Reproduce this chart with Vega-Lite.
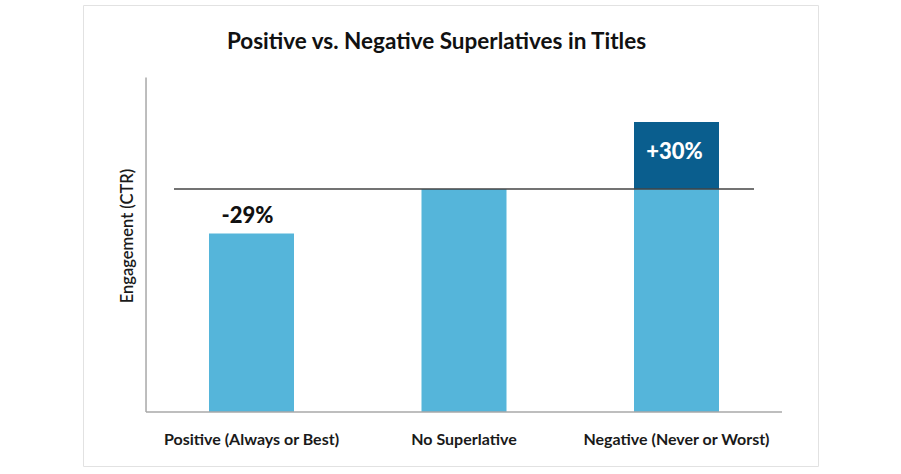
{
  "$schema": "https://vega.github.io/schema/vega-lite/v6.json",
  "width": 735,
  "height": 461,
  "autosize": "none",
  "padding": {"left": 83, "top": 5, "right": 83, "bottom": 8},
  "background": "white",
  "title": {
    "text": "Positive vs. Negative Superlatives in Titles",
    "font": "Lato",
    "fontSize": 22.5,
    "fontWeight": "bold",
    "color": "#111111",
    "anchor": "middle",
    "baseline": "alphabetic",
    "offset": -66,
    "dx": -14
  },
  "config": {
    "view": {"stroke": "#e2e2e2", "strokeWidth": 1},
    "axis": {"grid": false}
  },
  "datasets": {
    "bars": [
      {"category": "Positive (Always or Best)", "segment": "base", "start": 0, "end": 80},
      {"category": "No Superlative", "segment": "base", "start": 0, "end": 100},
      {"category": "Negative (Never or Worst)", "segment": "base", "start": 0, "end": 100},
      {"category": "Negative (Never or Worst)", "segment": "lift", "start": 100, "end": 130}
    ],
    "labels": [
      {"category": "Positive (Always or Best)", "pos": 80, "label": "-29%", "kind": "above"},
      {"category": "Negative (Never or Worst)", "pos": 115, "label": "+30%", "kind": "inside"}
    ],
    "rules": [
      {"kind": "yaxis", "from": "Positive (Always or Best)", "to": "Positive (Always or Best)", "y": 0, "y2": 150},
      {"kind": "xaxis", "from": "Positive (Always or Best)", "to": "Negative (Never or Worst)", "y": 0, "y2": 0},
      {"kind": "ref", "from": "Positive (Always or Best)", "to": "Negative (Never or Worst)", "y": 100, "y2": 100}
    ]
  },
  "encoding": {
    "x": {
      "field": "category",
      "type": "nominal",
      "sort": null,
      "scale": {
        "domain": ["Positive (Always or Best)", "No Superlative", "Negative (Never or Worst)"],
        "paddingInner": 0.6,
        "paddingOuter": 0.5294,
        "align": 0.56
      },
      "axis": {
        "orient": "bottom",
        "offset": -54,
        "title": null,
        "domain": false,
        "ticks": false,
        "tickSize": 0,
        "labelPadding": 19,
        "labelAngle": 0,
        "labelLimit": 0,
        "labelFont": "Lato",
        "labelFontSize": 16,
        "labelFontWeight": "bold",
        "labelColor": "#1a1a1a"
      }
    }
  },
  "layer": [
    {
      "data": {"name": "bars"},
      "mark": {"type": "bar"},
      "encoding": {
        "y": {
          "field": "start",
          "type": "quantitative",
          "scale": {"domain": [-24.22, 182.51], "nice": false, "zero": false},
          "axis": {
            "orient": "left",
            "offset": -63,
            "title": "Engagement (CTR)",
            "titleFont": "Lato",
            "titleFontSize": 16.5,
            "titleFontWeight": 600,
            "titleColor": "#1a1a1a",
            "titlePadding": 11,
            "labels": false,
            "ticks": false,
            "domain": false,
            "grid": false
          }
        },
        "y2": {"field": "end"},
        "color": {
          "field": "segment",
          "type": "nominal",
          "scale": {"domain": ["base", "lift"], "range": ["#55B5DA", "#0A5E8E"]},
          "legend": null
        }
      }
    },
    {
      "data": {"name": "rules"},
      "transform": [{"filter": "datum.kind === 'yaxis'"}],
      "mark": {"type": "rule", "color": "#a8a8a8", "strokeWidth": 1.5},
      "encoding": {
        "x": {"field": "from", "type": "nominal", "bandPosition": -0.741},
        "y": {"field": "y", "type": "quantitative"},
        "y2": {"field": "y2"}
      }
    },
    {
      "data": {"name": "rules"},
      "transform": [{"filter": "datum.kind === 'xaxis'"}],
      "mark": {"type": "rule", "color": "#a8a8a8", "strokeWidth": 1.5},
      "encoding": {
        "x": {"field": "from", "type": "nominal", "bandPosition": -0.741},
        "x2": {"field": "to", "bandPosition": 1.741},
        "y": {"field": "y", "type": "quantitative"}
      }
    },
    {
      "data": {"name": "rules"},
      "transform": [{"filter": "datum.kind === 'ref'"}],
      "mark": {"type": "rule", "color": "#454545", "strokeWidth": 1.3},
      "encoding": {
        "x": {"field": "from", "type": "nominal", "bandPosition": -0.412},
        "x2": {"field": "to", "bandPosition": 1.412},
        "y": {"field": "y", "type": "quantitative"}
      }
    },
    {
      "data": {"name": "labels"},
      "transform": [{"filter": "datum.kind === 'above'"}],
      "mark": {"type": "text", "font": "Lato", "fontSize": 22, "fontWeight": 900, "color": "#111111", "baseline": "alphabetic", "dy": -11, "dx": -4},
      "encoding": {
        "y": {"field": "pos", "type": "quantitative"},
        "text": {"field": "label"}
      }
    },
    {
      "data": {"name": "labels"},
      "transform": [{"filter": "datum.kind === 'inside'"}],
      "mark": {"type": "text", "font": "Lato", "fontSize": 22, "fontWeight": 900, "color": "#ffffff", "baseline": "alphabetic", "dy": 3, "dx": -2},
      "encoding": {
        "y": {"field": "pos", "type": "quantitative"},
        "text": {"field": "label"}
      }
    }
  ]
}
